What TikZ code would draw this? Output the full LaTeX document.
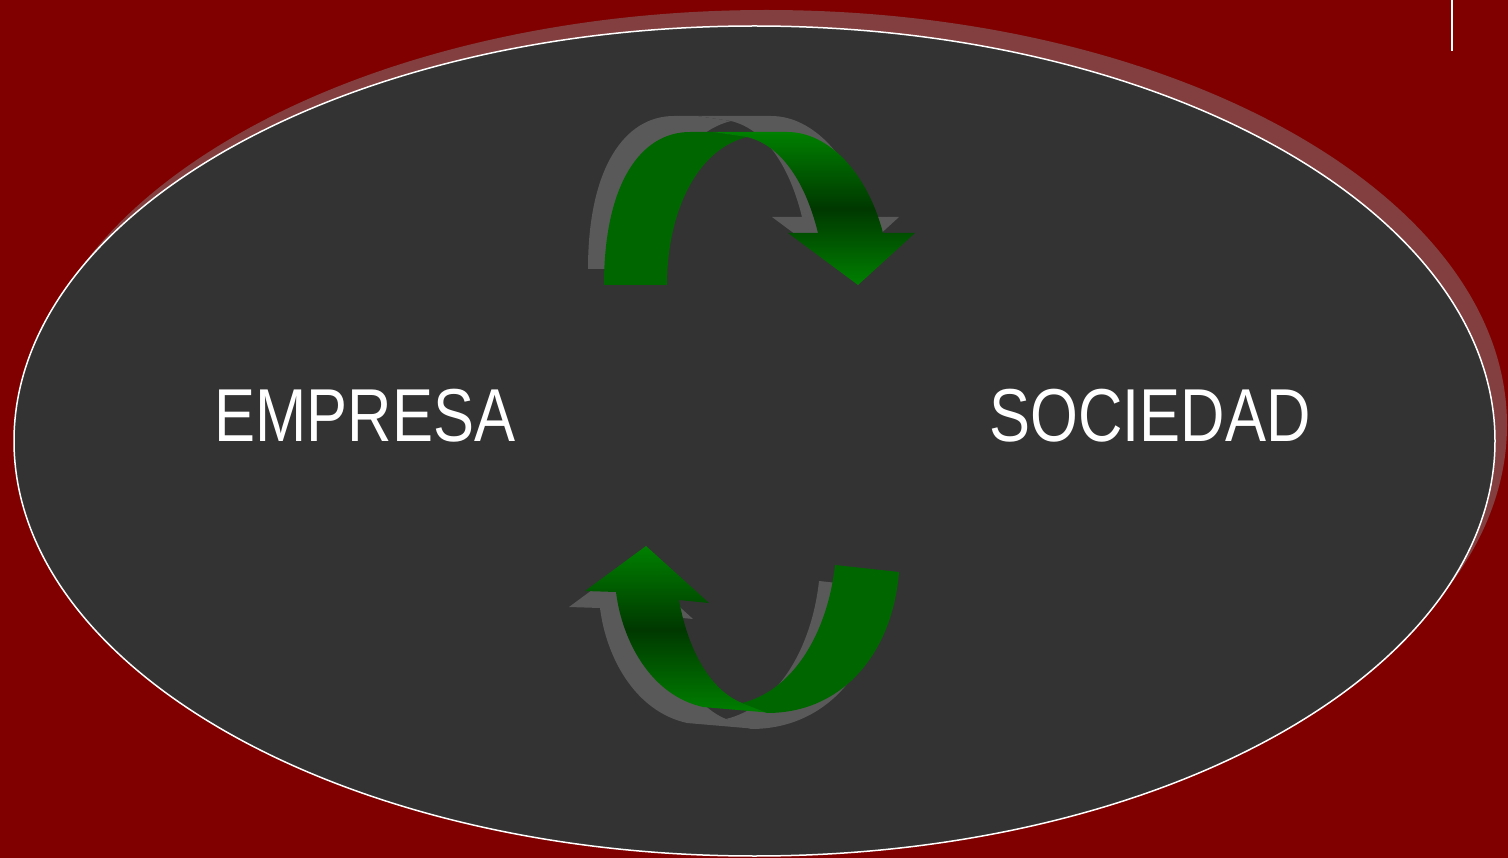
\documentclass[tikz,border=0pt]{standalone}
\usepackage{fontspec}
\setmainfont{Liberation Sans}[FakeStretch=0.82]
\definecolor{backred}{RGB}{128,0,0}
\definecolor{shadowred}{RGB}{131,63,63}
\definecolor{ovalgray}{RGB}{51,51,51}
\definecolor{arrowgray}{RGB}{89,89,89}
\definecolor{leafgreen}{RGB}{0,128,0}
\definecolor{darkleaf}{RGB}{0,56,0}
\definecolor{backgreen}{RGB}{0,102,0}

% arrow outlines (pixel units, y downwards)
\newcommand{\topback}{(604,285) .. controls (604,185) and (640,132) .. (690,132) -- (713,132) -- (747,137) .. controls (695,150) and (667,215) .. (667,285) -- cycle}
\newcommand{\topfront}{(713,132) -- (787,132) .. controls (830,132) and (868,175) .. (883,233) -- (915,233) -- (858,285) -- (788,233) -- (818,233) .. controls (805,180) and (780,145) .. (747,137) -- cycle}
\newcommand{\botback}{(835,565) -- (899,572) .. controls (893,650) and (845,713) .. (767,713) -- (742,703) .. controls (795,690) and (828,630) .. (835,565) -- cycle}
\newcommand{\botfront}{(646,546) -- (709,603) -- (679,600) .. controls (688,650) and (710,690) .. (742,703) -- (773,713) -- (703,707) .. controls (650,695) and (622,640) .. (616,592) -- (585,591) -- cycle}

\begin{document}
\begin{tikzpicture}[x=1pt, y=-1pt,
    arrowshadow/.style={fill=arrowgray},
    backface/.style={fill=backgreen},
    frontface/.style={top color=leafgreen, bottom color=leafgreen, middle color=darkleaf},
    label/.style={text=white, font=\fontsize{75}{80}\selectfont, anchor=base}]
    % Background
    \fill[backred] (0,0) rectangle (1508,858);
    \useasboundingbox (0,0) rectangle (1508,858);
    \draw[white, line width=2] (1452,0) -- (1452,51);

    % Oval and its shadow
    \fill[shadowred] (766.5,425) ellipse [x radius=740.5, y radius=415];
    \filldraw[fill=ovalgray, draw=white, line width=1.5] (754.5,441) ellipse [x radius=740.5, y radius=415];

    % Upper arrow
    \begin{scope}[shift={(-16,-16)}]
        \fill[arrowshadow] \topback;
        \fill[arrowshadow] \topfront;
    \end{scope}
    \fill[backface] \topback;
    \shade[frontface] \topfront;

    % Lower arrow
    \begin{scope}[shift={(-16,16)}]
        \fill[arrowshadow] \botback;
        \fill[arrowshadow] \botfront;
    \end{scope}
    \shade[frontface] \botfront;
    \fill[backface] \botback;

    % Labels
    \node[label] (empresa) at (365,442) {EMPRESA};
    \node[label] (sociedad) at (1150,442) {SOCIEDAD};
\end{tikzpicture}
\end{document}
